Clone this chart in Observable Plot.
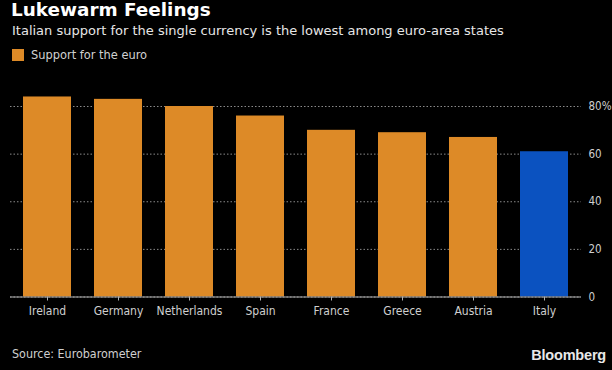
<!DOCTYPE html>
<html>
<head>
<meta charset="utf-8">
<script src="https://cdn.jsdelivr.net/npm/d3@7"></script>
<script src="https://cdn.jsdelivr.net/npm/@observablehq/plot@0.6"></script>
<style>
  html, body { margin: 0; padding: 0; background: #000; }
  #wrap { position: relative; width: 612px; height: 370px; background: #000; overflow: hidden; font-family: "DejaVu Sans Condensed", "DejaVu Sans", sans-serif; font-stretch: condensed; }
  .t { position: absolute; white-space: nowrap; line-height: 1; }
  #title { left: 11px; top: 1px; font-size: 18.4px; font-weight: 700; color: #fff; font-family: "DejaVu Sans", sans-serif; font-stretch: normal; }
  #subtitle { left: 12px; top: 24px; font-size: 13px; color: #e6e6e6; font-family: "DejaVu Sans", sans-serif; font-stretch: normal; }
  #legend { left: 12px; top: 49px; font-size: 12.7px; color: #d0d0d0; display: flex; align-items: center; }
  #legend .sw { width: 12px; height: 12px; background: #dd8a27; margin-right: 7px; display: inline-block; }
  #source { left: 12px; top: 348px; font-size: 12.4px; color: #cfcfcf; }
  #brand { right: 6px; top: 348px; font-size: 14.5px; font-weight: 700; color: #e8e8e8; font-family: "Liberation Sans", Arial, sans-serif; font-stretch: normal; letter-spacing: -0.2px; }
  #chart { position: absolute; left: 0; top: 70px; }
</style>
</head>
<body>
<div id="wrap">
  <div class="t" id="title">Lukewarm Feelings</div>
  <div class="t" id="subtitle">Italian support for the single currency is the lowest among euro-area states</div>
  <div class="t" id="legend"><span class="sw"></span>Support for the euro</div>
  <div id="chart"></div>
  <div class="t" id="source">Source: Eurobarometer</div>
  <div class="t" id="brand">Bloomberg</div>
</div>
<script>
const countries = ["Ireland", "Germany", "Netherlands", "Spain", "France", "Greece", "Austria", "Italy"];
const support = [84, 83, 80, 76, 70, 69, 67, 61];
const yTicks = [0, 20, 40, 60, 80];
const highlight = "Italy";

const data = countries.map((c, i) => ({country: c, value: support[i]}));

const ORANGE = "#dd8a27";
const BLUE = "#0b52c0";

const chart = Plot.plot({
  width: 612,
  height: 260,
  marginLeft: 10,
  marginRight: 31,
  marginTop: 36,
  marginBottom: 33.5,
  style: {background: "#000", color: "#c8c8c8", fontFamily: "'DejaVu Sans Condensed', 'DejaVu Sans', sans-serif"},
  x: {domain: countries, paddingInner: 0.32, paddingOuter: 0.14, label: null},
  y: {domain: [0, 80], label: null},
  marks: [
    Plot.gridY(yTicks, {stroke: "#8a8a8a", strokeOpacity: 1, strokeDasharray: "1.5,2", strokeWidth: 1}),
    Plot.barY(data, {x: "country", y: "value", fill: d => d.country === highlight ? BLUE : ORANGE}),
    Plot.ruleY([0], {stroke: "#b0b0b0", strokeWidth: 1}),
    Plot.axisX({tickSize: 4, tickPadding: 5, fontSize: 12, stroke: "#b0b0b0", fill: "#cfcfcf"}),
    Plot.axisY(yTicks, {anchor: "right", tickSize: 0, tickPadding: 7, fontSize: 11.5, fill: "#cfcfcf",
      tickFormat: d => d === 80 ? "80%" : String(d)})
  ]
});
document.getElementById("chart").appendChild(chart);
</script>
</body>
</html>
